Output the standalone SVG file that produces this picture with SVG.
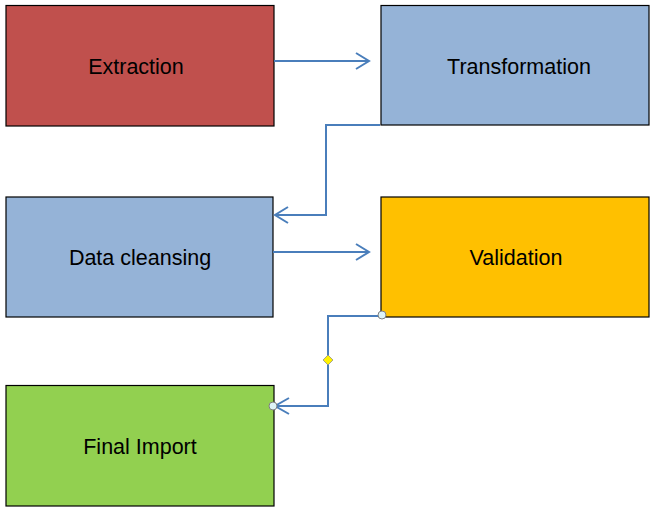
<svg xmlns="http://www.w3.org/2000/svg" width="658" height="515" viewBox="0 0 658 515">
<defs>
<style>
.box{stroke:#000;stroke-width:1.2}
.lbl{font-family:"Liberation Sans",Arial,sans-serif;font-size:21.5px;fill:#000;text-anchor:middle;dominant-baseline:central}
.con{fill:none;stroke:#4A7EBB;stroke-width:2}
.hd{fill:none;stroke:#4A7EBB;stroke-width:2}
.pt{fill:#DDF3F7;stroke:#7F7F7F;stroke-width:1}
</style>
</defs>
<rect width="658" height="515" fill="#fff"/>
<g id="extraction"><rect class="box" x="6" y="5.5" width="268" height="120.5" fill="#C0504D"/><text class="lbl" x="136" y="67">Extraction</text></g>
<g id="transformation"><rect class="box" x="381" y="5.5" width="268" height="119.5" fill="#95B3D7"/><text class="lbl" x="519" y="67">Transformation</text></g>
<g id="datacleansing"><rect class="box" x="6" y="197" width="267" height="120" fill="#95B3D7"/><text class="lbl" x="140" y="258">Data cleansing</text></g>
<g id="validation"><rect class="box" x="381" y="197" width="268" height="120" fill="#FFC000"/><text class="lbl" x="516" y="258">Validation</text></g>
<g id="finalimport"><rect class="box" x="6" y="385.5" width="268" height="120.5" fill="#92D050"/><text class="lbl" x="140" y="447">Final Import</text></g>
<g id="connectors">
<path class="con" d="M274 61 H369"/><path class="hd" d="M356 53 L369 61 L356 69"/>
<path class="con" d="M380 125 H326 V215 H275"/><path class="hd" d="M288 207 L275 215 L288 223"/>
<path class="con" d="M273 252 H369"/><path class="hd" d="M356 244 L369 252 L356 260"/>
<path class="con" d="M382 316 H328 V406 H275"/><path class="hd" d="M289 398 L275 406 L289 414"/>
<circle class="pt" cx="382" cy="315" r="4"/>
<circle class="pt" cx="273" cy="406" r="4"/>
<path d="M328 355 L333 360 L328 365 L323 360 Z" fill="#FFF200" stroke="#8F8F8F" stroke-width="0.8"/>
</g>
</svg>
